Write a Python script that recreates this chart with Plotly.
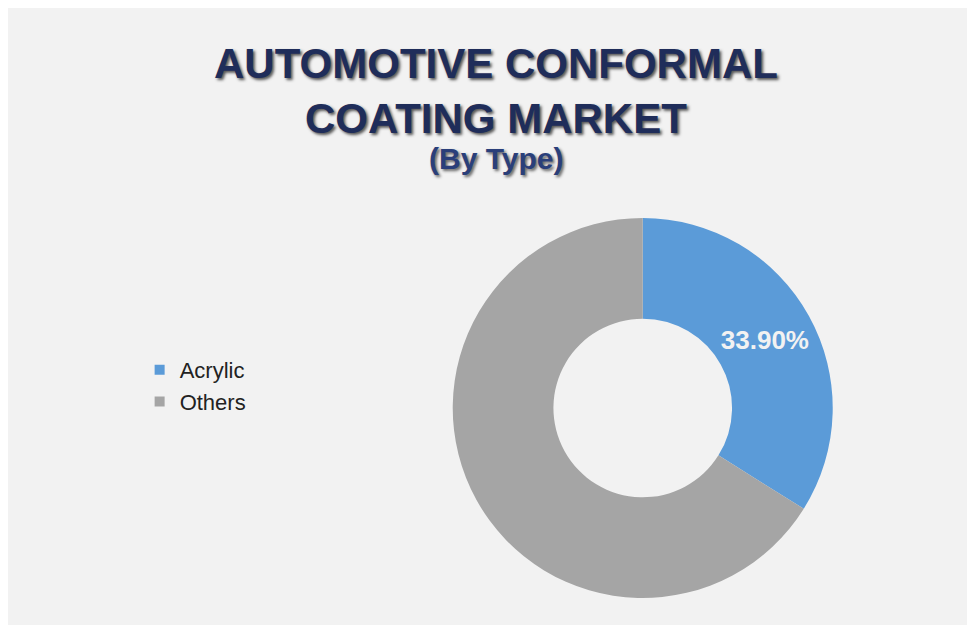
import plotly.graph_objects as go

labels = ["Acrylic", "Others"]
values = [33.9, 66.1]
colors = ["#5b9bd8", "#a5a5a5"]
shown_text = ["<b>33.90%</b>", ""]

fig = go.Figure()
fig.add_trace(go.Pie(
    labels=labels, values=values, hole=0.47, sort=False, direction="clockwise", rotation=0,
    marker=dict(colors=colors), text=shown_text, textinfo="text", textposition="inside",
    insidetextorientation="horizontal",
    textfont=dict(family="Liberation Sans", size=26, color="#f2f2f2"),
    domain=dict(x=[0.456, 0.846], y=[0.056, 0.664]), showlegend=False,
))
for lab, col in zip(labels, colors):
    fig.add_trace(go.Scatter(x=[None], y=[None], mode="markers", name=lab, legendgroup=lab,
                             marker=dict(symbol="square", size=10, color=col)))

fig.update_layout(
    width=975, height=625, margin=dict(l=0, r=0, t=0, b=0),
    paper_bgcolor="#f2f2f2", plot_bgcolor="#f2f2f2",
    xaxis=dict(visible=False), yaxis=dict(visible=False),
    legend=dict(x=0.135, y=1 - 378/625, xanchor="left", yanchor="middle", tracegroupgap=82,
                font=dict(family="Liberation Sans", size=22, color="#222"),
                bgcolor="rgba(0,0,0,0)", traceorder="normal", itemwidth=30),
    annotations=[
        dict(text="<b>AUTOMOTIVE CONFORMAL<br>COATING MARKET</b>", x=0.5, y=1 - 83/625,
             xref="paper", yref="paper", showarrow=False,
             font=dict(family="Liberation Sans", size=42, color="#1f2d5a",
                       shadow="2px 2px 3px #555"),
             xanchor="center", yanchor="middle"),
        dict(text="<b>(By Type)</b>", x=0.5, y=1 - 150/625, xref="paper", yref="paper",
             showarrow=False, font=dict(family="Liberation Sans", size=30, color="#2a3f7a",
                                        shadow="2px 2px 3px #666"),
             xanchor="center", yanchor="middle"),
    ],
)
fig.write_html("out.html")
